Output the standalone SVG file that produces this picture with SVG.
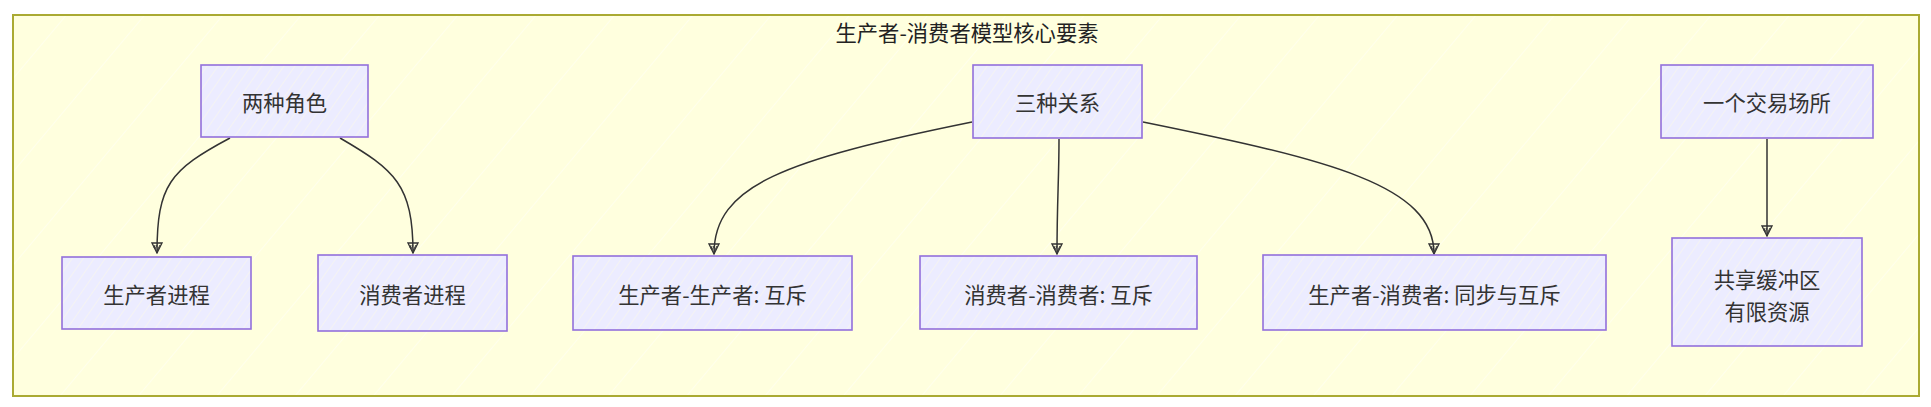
<svg xmlns="http://www.w3.org/2000/svg" width="1931" height="407" viewBox="0 0 1931 407">
<style>
  .cluster { fill: url(#hatchC); stroke: #AAAA33; stroke-width: 2; }
  .node rect { fill: url(#hatchN); stroke: #9370DB; stroke-width: 1.6; }
  .lbl { font-family: "Noto Sans CJK SC", "Noto Sans", sans-serif; font-size: 21.3px; fill: #333; text-anchor: middle; dominant-baseline: central; }
  .title { font-family: "Noto Sans CJK SC", "Noto Sans", sans-serif; font-size: 21.3px; fill: #222; text-anchor: middle; dominant-baseline: central; }
  .edge { fill: none; stroke: #333; stroke-width: 1.5; marker-end: url(#arrow); }
</style>
<defs>
  <pattern id="hatchN" patternUnits="userSpaceOnUse" width="9" height="9" patternTransform="rotate(35)">
    <rect width="9" height="9" fill="#ECECFF"/>
    <line x1="0" y1="0" x2="0" y2="9" stroke="#FFFBE0" stroke-width="1" opacity="0.8"/>
  </pattern>
  <pattern id="hatchC" patternUnits="userSpaceOnUse" width="60" height="60" patternTransform="rotate(40)">
    <rect width="60" height="60" fill="#FFFFDE"/>
    <line x1="0" y1="0" x2="0" y2="60" stroke="#FFFFFF" stroke-width="1.2" opacity="0.7"/>
  </pattern>
  <marker id="arrow" viewBox="0 0 12 12" refX="11" refY="6" markerWidth="12" markerHeight="12" markerUnits="userSpaceOnUse" orient="auto">
    <path d="M1,1 L11,6 L1,11 Z" fill="none" stroke="#333" stroke-width="1.3"/>
    <path d="M3,3 L9,6 M3,6 L7,8 M3,8 L6,9" stroke="#333" stroke-width="1"/>
  </marker>
</defs>

<g id="cluster">
  <rect class="cluster" x="13" y="15" width="1906" height="381"/>
  <text class="title" x="967" y="31">生产者-消费者模型核心要素</text>
</g>

<g id="connectors">
  <path class="edge" d="M230,138 C 170,170 157,185 157,253"/>
  <path class="edge" d="M340,138 C 395,170 413,185 413,253"/>
  <path class="edge" d="M972,122 C 785,160 714,185 714,254"/>
  <path class="edge" d="M1059,139 C 1059,180 1057,200 1057,254"/>
  <path class="edge" d="M1143,122 C 1330,160 1434,185 1434,254"/>
  <path class="edge" d="M1767,139 C 1767,170 1767,190 1767,236"/>
</g>

<g id="node-roles" class="node">
  <rect x="201" y="65" width="167" height="72"/>
  <text class="lbl" x="284.5" y="101">两种角色</text>
</g>
<g id="node-relations" class="node">
  <rect x="973" y="65" width="169" height="73"/>
  <text class="lbl" x="1057.5" y="101.5">三种关系</text>
</g>
<g id="node-place" class="node">
  <rect x="1661" y="65" width="212" height="73"/>
  <text class="lbl" x="1767" y="101.5">一个交易场所</text>
</g>
<g id="node-producer" class="node">
  <rect x="62" y="257" width="189" height="72"/>
  <text class="lbl" x="156.5" y="293">生产者进程</text>
</g>
<g id="node-consumer" class="node">
  <rect x="318" y="255" width="189" height="76"/>
  <text class="lbl" x="412.5" y="293">消费者进程</text>
</g>
<g id="node-pp" class="node">
  <rect x="573" y="256" width="279" height="74"/>
  <text class="lbl" x="712.5" y="293">生产者-生产者: 互斥</text>
</g>
<g id="node-cc" class="node">
  <rect x="920" y="256" width="277" height="73"/>
  <text class="lbl" x="1058.5" y="293">消费者-消费者: 互斥</text>
</g>
<g id="node-pc" class="node">
  <rect x="1263" y="255" width="343" height="75"/>
  <text class="lbl" x="1434.5" y="293">生产者-消费者: 同步与互斥</text>
</g>
<g id="node-buffer" class="node">
  <rect x="1672" y="238" width="190" height="108"/>
  <text class="lbl" x="1767" y="278">共享缓冲区</text>
  <text class="lbl" x="1767" y="310">有限资源</text>
</g>
</svg>
